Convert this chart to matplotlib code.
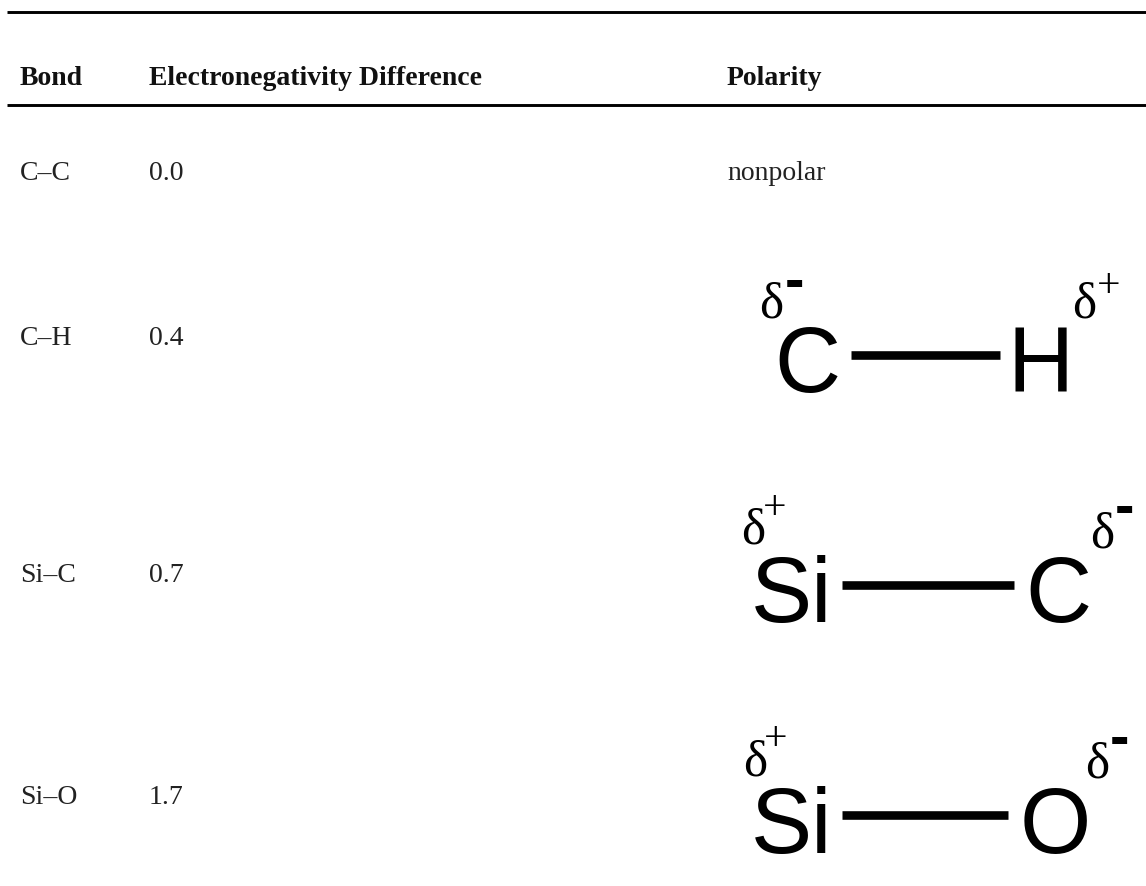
import matplotlib
matplotlib.use('Agg')
import matplotlib.pyplot as plt

W, H = 1146, 886

headers = ['Bond', 'Electronegativity Difference', 'Polarity']
bonds = ['C–C', 'C–H', 'Si–C', 'Si–O']
diffs = ['0.0', '0.4', '0.7', '1.7']
left_atoms = ['C', 'Si', 'Si']
right_atoms = ['H', 'C', 'O']
left_charges = ['-', '+', '+']
right_charges = ['+', '-', '-']

fig = plt.figure(figsize=(W / 100, H / 100), dpi=100)
ax = fig.add_axes([0, 0, 1, 1])
ax.set_xlim(0, W)
ax.set_ylim(H, 0)
ax.axis('off')

serif = 'Liberation Serif'
sans = 'Liberation Sans'

ax.plot([7, W], [12.3, 12.3], color='black', lw=2.1, solid_capstyle='butt')
ax.plot([7, W], [105.3, 105.3], color='black', lw=2.1, solid_capstyle='butt')

for x, h in zip([20, 149, 727], headers):
    ax.text(x, 85, h, family=serif, weight='bold', fontsize=20, va='baseline', color='#111111')

row_y = [180, 345, 582, 804]
for b, d, y in zip(bonds, diffs, row_y):
    ax.text(20, y, b, family=serif, fontsize=20, va='baseline', color='#222222')
    ax.text(149, y, d, family=serif, fontsize=20, va='baseline', color='#222222')
ax.text(727, row_y[0], 'nonpolar', family=serif, fontsize=20, va='baseline', color='#222222')


def charge(x, y, sign):
    # minus is a heavy sans hyphen, plus is a thin serif one
    if sign == '-':
        ax.text(x, y + 14.5, '-', family=sans, weight='bold', fontsize=42, ha='center', va='baseline', color='black')
    else:
        ax.text(x, y + 14, '+', family=serif, fontsize=30, ha='center', va='baseline', color='black')


# structure drawings, one entry per polar bond
atom_base = [392, 622, 853]
left_x = [807, 791.5, 791.5]
right_x = [1041, 1058, 1055]
bond_x0 = [851, 842, 842]
bond_x1 = [1000, 1014, 1008]
bond_y = [354.5, 585, 815]
dl_x = [771, 753, 755]
dl_y = [318, 544, 775]
dr_x = [1084, 1102, 1097.5]
dr_y = [317, 548, 778]
cl_x = [794.5, 775, 776]
cl_y = [284.5, 505, 736]
cr_x = [1109, 1124.5, 1120]
cr_y = [283, 510.5, 741]

for i in range(3):
    ax.text(left_x[i], atom_base[i], left_atoms[i], family=sans, fontsize=66, ha='center', va='baseline', color='black')
    ax.text(right_x[i], atom_base[i], right_atoms[i], family=sans, fontsize=66, ha='center', va='baseline', color='black')
    ax.plot([bond_x0[i], bond_x1[i]], [bond_y[i], bond_y[i]], color='black', lw=6.2, solid_capstyle='butt')
    ax.text(dl_x[i], dl_y[i], 'δ', family=serif, fontsize=37, ha='center', va='baseline', color='black')
    ax.text(dr_x[i], dr_y[i], 'δ', family=serif, fontsize=37, ha='center', va='baseline', color='black')
    charge(cl_x[i], cl_y[i], left_charges[i])
    charge(cr_x[i], cr_y[i], right_charges[i])

fig.savefig('out.png', dpi=100)
